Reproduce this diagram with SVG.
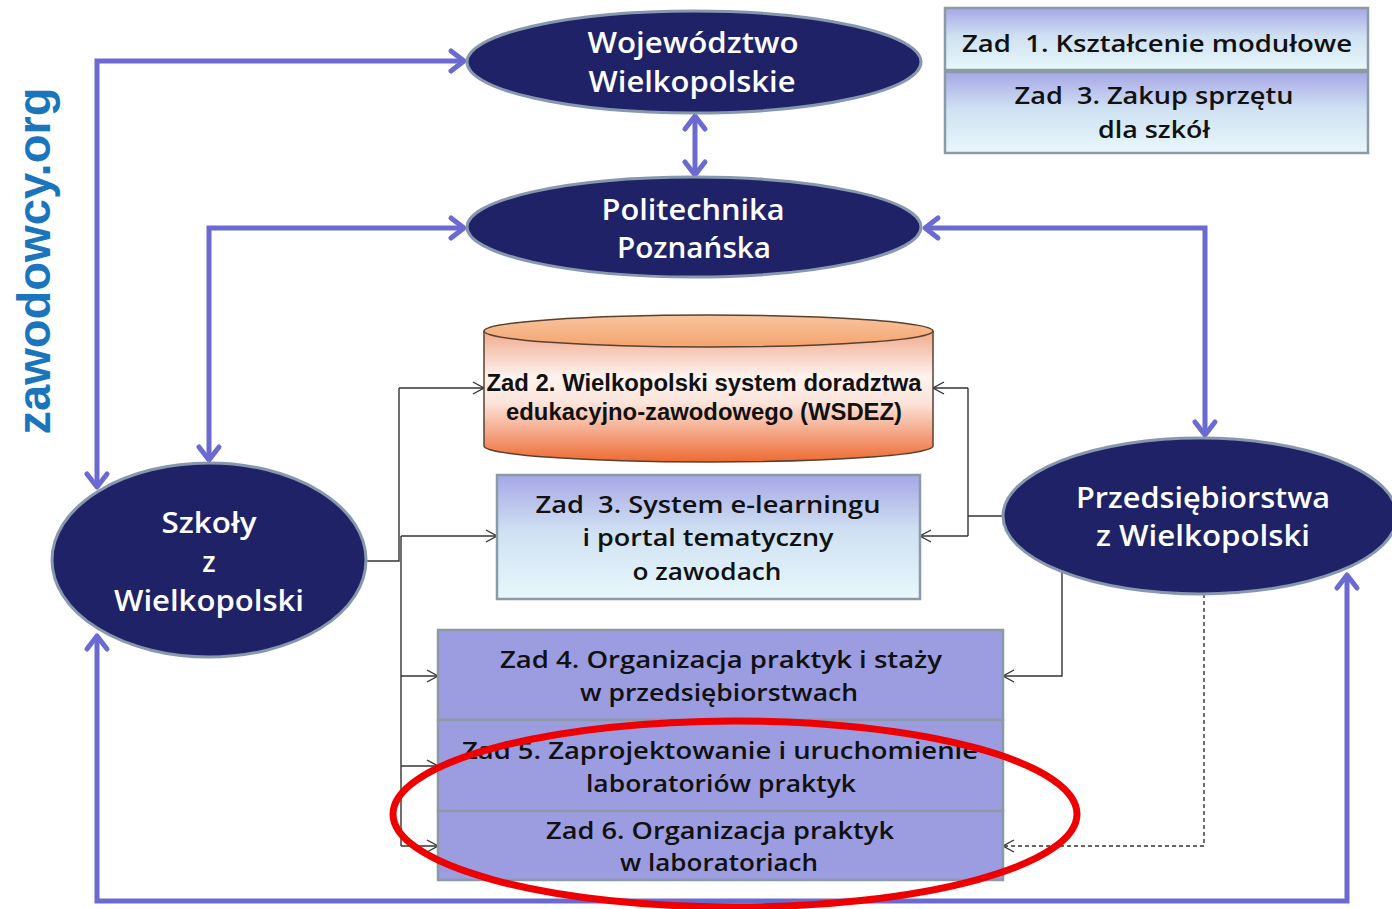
<svg xmlns="http://www.w3.org/2000/svg" width="1392" height="909" viewBox="0 0 1392 909">
<style>
.ell{fill:#1f2266;stroke:#8797ad;stroke-width:3}
.et{fill:#ffffff;font-family:"Open Sans","DejaVu Sans",sans-serif;font-weight:600;font-size:28px;text-anchor:middle}
.bt{fill:#111111;font-family:"Open Sans","DejaVu Sans",sans-serif;font-weight:600;font-size:24px;text-anchor:middle}
.ct{fill:#111111;font-family:"Liberation Sans",Arial,sans-serif;font-weight:700;font-size:23px;text-anchor:middle}
.gbox{fill:url(#gb);stroke:#8a9aa6;stroke-width:2.5}
.pbox{fill:#9c9ce0;stroke:#8a9aa6;stroke-width:2.5}
.blue{fill:none;stroke:#6a6ad0;stroke-width:5;marker-start:url(#ab);marker-end:url(#ab)}
.thin{fill:none;stroke:#333333;stroke-width:1.4}
.thinA{fill:none;stroke:#333333;stroke-width:1.4;marker-end:url(#at)}
.dash{fill:none;stroke:#333333;stroke-width:1.4;stroke-dasharray:4 3;marker-end:url(#at)}
</style>
<defs>
<linearGradient id="gb" x1="0" y1="0" x2="0" y2="1">
<stop offset="0" stop-color="#a7a7e6"/>
<stop offset="0.45" stop-color="#cfe0f2"/>
<stop offset="1" stop-color="#e8f8fb"/>
</linearGradient>
<linearGradient id="cyl" x1="0" y1="0" x2="0" y2="1">
<stop offset="0" stop-color="#f2a98c"/>
<stop offset="0.35" stop-color="#fdf3ef"/>
<stop offset="0.55" stop-color="#fbe4da"/>
<stop offset="1" stop-color="#ee6a32"/>
</linearGradient>
<linearGradient id="cylTop" x1="0" y1="0" x2="0" y2="1">
<stop offset="0" stop-color="#f8c49c"/>
<stop offset="1" stop-color="#f4a470"/>
</linearGradient>
<marker id="ab" markerUnits="userSpaceOnUse" markerWidth="40" markerHeight="40" viewBox="-20 -20 40 40" refX="0" refY="0" orient="auto-start-reverse">
<path d="M-13,-10 L0,0 L-13,10" fill="none" stroke="#6a6ad0" stroke-width="5" stroke-linecap="round" stroke-linejoin="round"/>
</marker>
<marker id="at" markerUnits="userSpaceOnUse" markerWidth="30" markerHeight="30" viewBox="-15 -15 30 30" refX="0" refY="0" orient="auto">
<path d="M-11,-6 L0,0 L-11,6" fill="none" stroke="#333333" stroke-width="1.4"/>
</marker>
</defs>
<rect x="0" y="0" width="1392" height="909" fill="#ffffff"/>

<text x="50" y="261" transform="rotate(-90 50 261)" fill="#1b75bc" font-family="'Liberation Sans',Arial,sans-serif" font-weight="700" font-size="46" text-anchor="middle" textLength="347" lengthAdjust="spacingAndGlyphs">zawodowcy.org</text>

<g id="connectors">
<path class="blue" d="M97,487 V61 H464"/>
<path class="blue" d="M209,460 V228 H464"/>
<path class="blue" d="M925,228 H1205 V435"/>
<path class="blue" d="M695,116 V175"/>
<path class="blue" d="M97,636 V901 H1347 V575"/>
<path class="thin" d="M366,561 H399 V388"/>
<path class="thinA" d="M399,388 H484"/>
<path class="thin" d="M401,536 V846"/>
<path class="thinA" d="M401,536 H497"/>
<path class="thinA" d="M401,676 H438"/>
<path class="thinA" d="M401,766 H438"/>
<path class="thinA" d="M401,846 H438"/>
<path class="thin" d="M1004,516 H968"/>
<path class="thin" d="M968,388 V536"/>
<path class="thinA" d="M968,388 H933"/>
<path class="thinA" d="M968,536 H920"/>
<path class="thinA" d="M1062,571 V676 H1003"/>
<path class="dash" d="M1204,594 V846 H1003"/>
</g>

<g id="wojewodztwo">
<ellipse class="ell" cx="694" cy="62" rx="227" ry="51"/>
<text class="et" x="693" y="53" textLength="211" lengthAdjust="spacingAndGlyphs">Województwo</text>
<text class="et" x="692" y="92" textLength="207" lengthAdjust="spacingAndGlyphs">Wielkopolskie</text>
</g>

<g id="politechnika">
<ellipse class="ell" cx="694" cy="227" rx="227" ry="50"/>
<text class="et" x="693" y="220" textLength="183" lengthAdjust="spacingAndGlyphs">Politechnika</text>
<text class="et" x="694" y="258" textLength="154" lengthAdjust="spacingAndGlyphs">Poznańska</text>
</g>

<g id="szkoly">
<ellipse class="ell" cx="209" cy="560" rx="157" ry="97"/>
<text class="et" x="209" y="533" textLength="95" lengthAdjust="spacingAndGlyphs">Szkoły</text>
<text class="et" x="209" y="572">z</text>
<text class="et" x="209" y="611" textLength="190" lengthAdjust="spacingAndGlyphs">Wielkopolski</text>
</g>

<g id="przedsiebiorstwa">
<ellipse class="ell" cx="1200" cy="516" rx="197" ry="78"/>
<text class="et" x="1203" y="508" textLength="254" lengthAdjust="spacingAndGlyphs">Przedsiębiorstwa</text>
<text class="et" x="1203" y="546" textLength="214" lengthAdjust="spacingAndGlyphs">z Wielkopolski</text>
</g>

<g id="zad1">
<rect class="gbox" x="945" y="8" width="423" height="62"/>
<text class="bt" x="1157" y="52" textLength="390" lengthAdjust="spacingAndGlyphs">Zad&#160; 1. Kształcenie modułowe</text>
</g>

<g id="zad3-zakup">
<rect class="gbox" x="945" y="72" width="423" height="81"/>
<text class="bt" x="1154" y="104" textLength="279" lengthAdjust="spacingAndGlyphs">Zad&#160; 3. Zakup sprzętu</text>
<text class="bt" x="1154" y="138" textLength="112" lengthAdjust="spacingAndGlyphs">dla szkół</text>
</g>

<g id="zad2">
<path d="M484,331 V446 A224.5,16 0 0 0 933,446 V331" fill="url(#cyl)" stroke="#5a4030" stroke-width="1.5"/>
<ellipse cx="708.5" cy="331" rx="224.5" ry="16" fill="url(#cylTop)" stroke="#5a4030" stroke-width="1.5"/>
<text class="ct" x="704" y="391" textLength="435" lengthAdjust="spacingAndGlyphs">Zad 2. Wielkopolski system doradztwa</text>
<text class="ct" x="704" y="420" textLength="396" lengthAdjust="spacingAndGlyphs">edukacyjno-zawodowego (WSDEZ)</text>
</g>

<g id="zad3-elearning">
<rect class="gbox" x="497" y="475" width="423" height="124"/>
<text class="bt" x="708" y="513" textLength="345" lengthAdjust="spacingAndGlyphs">Zad&#160; 3. System e-learningu</text>
<text class="bt" x="708" y="546" textLength="251" lengthAdjust="spacingAndGlyphs">i portal tematyczny</text>
<text class="bt" x="707" y="580" textLength="149" lengthAdjust="spacingAndGlyphs">o zawodach</text>
</g>

<g id="zad4">
<rect class="pbox" x="438" y="630" width="565" height="90"/>
<text class="bt" x="721" y="668" textLength="442" lengthAdjust="spacingAndGlyphs">Zad 4. Organizacja praktyk i staży</text>
<text class="bt" x="719" y="701" textLength="278" lengthAdjust="spacingAndGlyphs">w przedsiębiorstwach</text>
</g>

<g id="zad5">
<rect class="pbox" x="438" y="720" width="565" height="91"/>
<text class="bt" x="720" y="759" textLength="516" lengthAdjust="spacingAndGlyphs">Zad 5. Zaprojektowanie i uruchomienie</text>
<text class="bt" x="721" y="792" textLength="270" lengthAdjust="spacingAndGlyphs">laboratoriów praktyk</text>
</g>

<g id="zad6">
<rect class="pbox" x="438" y="811" width="565" height="69"/>
<text class="bt" x="720" y="839" textLength="348" lengthAdjust="spacingAndGlyphs">Zad 6. Organizacja praktyk</text>
<text class="bt" x="719" y="871" textLength="198" lengthAdjust="spacingAndGlyphs">w laboratoriach</text>
</g>

<g id="highlight">
<ellipse cx="735" cy="814" rx="342" ry="93" fill="none" stroke="#ee0000" stroke-width="7"/>
</g>
</svg>
